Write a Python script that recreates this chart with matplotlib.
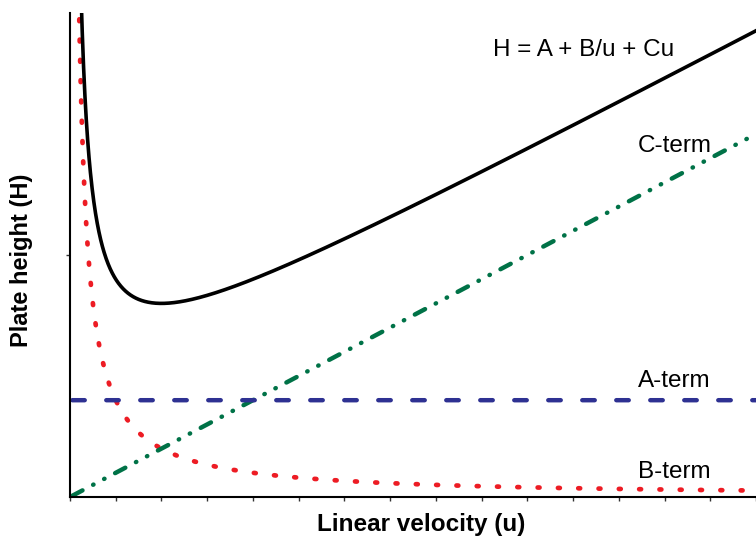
import numpy as np
import matplotlib.pyplot as plt

plt.rcParams['font.family'] = ['Liberation Sans', 'DejaVu Sans']

# van Deemter coefficients
A_TERM = 2.0
B_TERM = 2.0
C_TERM = 0.5

X_MAX = 15
Y_MAX = 10
X_TICKS = list(range(0, 16))
Y_TICKS = [5]

u = np.linspace(0.05, X_MAX, 2000)
a_vals = np.full_like(u, A_TERM)
b_vals = B_TERM / u
c_vals = C_TERM * u
h_vals = a_vals + b_vals + c_vals

fig = plt.figure(figsize=(7.56, 5.36), dpi=100)
ax = fig.add_axes([70 / 756, 39 / 536, 686 / 756, 484 / 536])

ax.plot(u, b_vals, color='#ed1c24', lw=3.4, linestyle=(0, (0.4, 3.9)), dash_capstyle='round')
ax.plot(u, c_vals, color='#007247', lw=3.2,
        linestyle=(0, (2.6, 2.7, 0.1, 2.7, 0.1, 2.7)), dash_capstyle='round')
ax.plot(u, a_vals, color='#2e3192', lw=3.2, linestyle=(0, (2.8, 4.85)), dash_capstyle='round')
ax.plot(u, h_vals, color='black', lw=2.6)

ax.text(9.25, 9.11, 'H = A + B/u + Cu', fontsize=17.5, ha='left', va='baseline')
ax.text(12.42, 7.13, 'C-term', fontsize=17.5, ha='left', va='baseline')
ax.text(12.42, 2.27, 'A-term', fontsize=17.5, ha='left', va='baseline')
ax.text(12.42, 0.39, 'B-term', fontsize=17.5, ha='left', va='baseline')

ax.set_xlim(0, X_MAX)
ax.set_ylim(0, Y_MAX)
ax.set_xticks(X_TICKS)
ax.set_yticks(Y_TICKS)
ax.set_xticklabels([])
ax.set_yticklabels([])
ax.tick_params(direction='out', length=3, width=1, color='#333333')

for side in ['top', 'right']:
    ax.spines[side].set_visible(False)
for side in ['left', 'bottom']:
    ax.spines[side].set_linewidth(1.5)

fig.text(421 / 756, 1 - 525 / 536, 'Linear velocity (u)', fontsize=17.5, fontweight='bold',
         ha='center', va='center')
fig.text(22 / 756, 1 - 260 / 536, 'Plate height (H)', fontsize=17, fontweight='bold',
         ha='center', va='center', rotation=90)

fig.savefig('out.png', dpi=100)
